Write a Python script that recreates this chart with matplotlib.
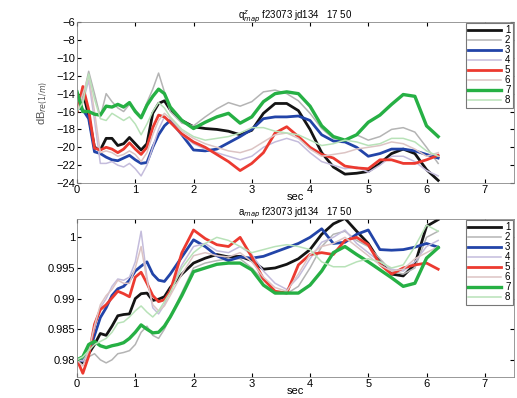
import matplotlib
matplotlib.use("Agg")
import matplotlib.pyplot as plt

plt.rcParams["font.family"] = ["Liberation Sans", "DejaVu Sans"]

# time axis (sec)
t = [0, 0.1, 0.2, 0.3, 0.4, 0.5, 0.6, 0.7, 0.8, 0.9, 1.0, 1.1, 1.2, 1.3, 1.4, 1.5, 1.6,
     1.8, 2.0, 2.2, 2.4, 2.6, 2.8, 3.0, 3.2, 3.4, 3.6, 3.8, 4.0, 4.2, 4.4, 4.6, 4.8,
     5.0, 5.2, 5.4, 5.6, 5.8, 6.0, 6.2]

labels = ["1", "2", "3", "4", "5", "6", "7", "8"]
colors = ["#141414", "#b4b4b4", "#2244a8", "#c4bcdc", "#ec3a30", "#dcc4c4", "#26b044", "#b8e2b8"]
widths = [2.0, 1.1, 2.0, 1.1, 2.0, 1.1, 2.4, 1.1]

# q^z_map (dB)
q1 = [-16.0, -13.8, -16.5, -20.0, -20.3, -19.0, -19.0, -19.8, -19.6, -18.9, -19.6, -20.3, -19.6, -16.2, -15.1, -14.8, -15.8,
      -17.0, -17.7, -17.9, -18.0, -18.2, -18.6, -18.1, -16.2, -15.1, -15.1, -15.9, -18.0, -20.6, -22.2, -23.0, -22.9,
      -22.7, -21.8, -20.7, -20.2, -20.7, -22.5, -23.7]
q2 = [-16.0, -14.5, -11.5, -14.0, -16.6, -14.0, -14.9, -15.6, -16.0, -15.2, -15.8, -16.6, -15.0, -13.5, -11.7, -13.8, -16.0,
      -17.3, -17.6, -16.6, -15.7, -15.0, -15.4, -14.9, -13.8, -13.6, -14.0, -14.8, -16.2, -17.9, -19.0, -19.2, -18.6,
      -19.2, -18.8, -18.0, -17.8, -18.3, -20.0, -21.8]
q3 = [-15.5, -15.8, -16.8, -20.5, -20.7, -21.1, -21.4, -21.5, -21.2, -20.9, -21.4, -21.8, -21.7, -20.0, -18.6, -17.6, -17.0,
      -18.6, -20.3, -20.4, -20.2, -19.5, -18.8, -18.0, -16.8, -16.6, -16.6, -16.5, -17.0, -18.6, -19.3, -19.4, -20.0,
      -21.0, -20.7, -20.2, -20.2, -20.4, -20.8, -21.2]
q4 = [-16.0, -15.0, -12.5, -17.0, -21.8, -21.8, -21.6, -22.0, -22.2, -21.8, -22.4, -23.2, -22.0, -20.0, -18.0, -16.6, -17.2,
      -18.6, -19.6, -20.2, -20.6, -21.0, -21.4, -21.0, -20.0, -19.4, -19.0, -19.4, -20.6, -21.6, -22.0, -22.4, -22.2,
      -22.8, -22.0, -21.0, -21.0, -21.6, -22.6, -23.2]
q5 = [-16.0, -13.2, -15.8, -20.1, -20.3, -20.0, -20.2, -20.6, -20.2, -19.5, -20.2, -20.8, -20.0, -17.8, -16.4, -16.6, -17.2,
      -18.5, -19.4, -20.0, -20.8, -21.6, -22.6, -21.8, -20.6, -18.4, -17.7, -18.8, -20.0, -20.8, -21.2, -22.1, -22.3,
      -22.4, -21.4, -21.4, -21.8, -21.8, -21.4, -20.9]
q6 = [-16.0, -14.0, -12.0, -16.0, -20.6, -20.4, -20.6, -21.0, -20.8, -20.4, -20.8, -21.6, -20.6, -18.6, -17.0, -16.2, -16.8,
      -18.2, -19.0, -19.6, -20.0, -20.4, -20.6, -20.2, -19.4, -18.6, -18.4, -19.0, -20.2, -21.0, -20.8, -20.6, -20.2,
      -20.0, -19.8, -19.4, -19.6, -20.2, -21.0, -20.6]
q7 = [-13.8, -16.0, -16.0, -16.3, -16.4, -15.4, -15.5, -15.2, -15.5, -15.0, -16.0, -16.7, -15.3, -14.3, -13.5, -14.0, -15.5,
      -17.0, -17.9, -17.2, -16.6, -16.2, -17.3, -16.6, -14.9, -14.0, -13.8, -14.0, -15.4, -17.6, -18.8, -19.2, -18.6,
      -17.2, -16.4, -15.2, -14.1, -14.3, -17.6, -18.8]
q8 = [-16.0, -15.0, -11.8, -14.6, -16.8, -17.0, -16.2, -16.6, -17.0, -16.6, -17.4, -18.6, -17.4, -16.0, -15.0, -15.6, -16.6,
      -18.0, -18.8, -19.2, -19.0, -18.8, -18.4, -17.8, -17.8, -18.2, -18.4, -18.6, -19.2, -19.8, -19.6, -19.2, -19.4,
      -19.8, -19.6, -19.0, -19.0, -19.4, -20.4, -21.0]

# a_map
a1 = [0.9800, 0.9795, 0.9810, 0.9825, 0.9843, 0.9840, 0.9855, 0.9872, 0.9874, 0.9875, 0.9900, 0.9908, 0.9909, 0.9897, 0.9899, 0.9903, 0.9918,
      0.9940, 0.9958, 0.9966, 0.9972, 0.9968, 0.9969, 0.9962, 0.9948, 0.9950, 0.9956, 0.9965, 0.9980, 1.0005, 1.0022, 1.0031, 1.0010,
      0.9990, 0.9960, 0.9940, 0.9937, 0.9956, 1.0018, 1.0029]
a2 = [0.9800, 0.9800, 0.9805, 0.9810, 0.9800, 0.9795, 0.9800, 0.9810, 0.9812, 0.9815, 0.9825, 0.9845, 0.9855, 0.9840, 0.9835, 0.9850, 0.9870,
      0.9910, 0.9950, 0.9958, 0.9962, 0.9965, 0.9965, 0.9950, 0.9930, 0.9912, 0.9908, 0.9920, 0.9950, 0.9985, 1.0005, 1.0010, 0.9995,
      0.9985, 0.9965, 0.9945, 0.9940, 0.9950, 1.0000, 1.0010]
a3 = [0.9800, 0.9798, 0.9812, 0.9840, 0.9869, 0.9885, 0.9905, 0.9916, 0.9920, 0.9930, 0.9945, 0.9953, 0.9960, 0.9940, 0.9930, 0.9928, 0.9940,
      0.9968, 0.9996, 0.9985, 0.9970, 0.9962, 0.9968, 0.9966, 0.9969, 0.9976, 0.9983, 0.9990, 1.0000, 1.0014, 0.9990, 0.9992, 1.0005,
      1.0012, 0.9980, 0.9979, 0.9980, 0.9984, 0.9990, 0.9984]
a4 = [0.9800, 0.9798, 0.9815, 0.9850, 0.9885, 0.9900, 0.9920, 0.9932, 0.9930, 0.9935, 0.9960, 1.0010, 0.9935, 0.9885, 0.9875, 0.9890, 0.9915,
      0.9955, 0.9985, 0.9990, 0.9978, 0.9975, 0.9985, 0.9972, 0.9945, 0.9925, 0.9915, 0.9935, 0.9965, 0.9992, 1.0000, 1.0012, 0.9990,
      0.9975, 0.9960, 0.9948, 0.9945, 0.9960, 0.9985, 0.9995]
a5 = [0.9800, 0.9778, 0.9806, 0.9858, 0.9882, 0.9890, 0.9901, 0.9912, 0.9908, 0.9903, 0.9935, 0.9943, 0.9925, 0.9905, 0.9895, 0.9898, 0.9912,
      0.9975, 1.0012, 0.9998, 0.9988, 0.9985, 1.0000, 0.9968, 0.9932, 0.9912, 0.9909, 0.9955, 0.9972, 0.9975, 0.9972, 0.9995, 1.0000,
      0.9988, 0.9956, 0.9940, 0.9950, 0.9955, 0.9958, 0.9948]
a6 = [0.9800, 0.9790, 0.9815, 0.9855, 0.9890, 0.9905, 0.9915, 0.9930, 0.9925, 0.9925, 0.9950, 0.9985, 0.9930, 0.9890, 0.9880, 0.9888, 0.9905,
      0.9940, 0.9970, 0.9975, 0.9970, 0.9968, 0.9975, 0.9960, 0.9935, 0.9918, 0.9912, 0.9940, 0.9972, 0.9985, 0.9990, 1.0000, 0.9985,
      0.9970, 0.9955, 0.9945, 0.9948, 0.9965, 0.9975, 0.9985]
a7 = [0.9800, 0.9805, 0.9825, 0.9830, 0.9823, 0.9820, 0.9823, 0.9825, 0.9828, 0.9835, 0.9845, 0.9857, 0.9850, 0.9844, 0.9845, 0.9855, 0.9870,
      0.9905, 0.9944, 0.9950, 0.9956, 0.9958, 0.9958, 0.9947, 0.9922, 0.9909, 0.9909, 0.9909, 0.9922, 0.9945, 0.9975, 0.9985, 0.9972,
      0.9960, 0.9947, 0.9934, 0.9920, 0.9925, 0.9966, 0.9983]
a8 = [0.9800, 0.9805, 0.9815, 0.9825, 0.9830, 0.9835, 0.9845, 0.9860, 0.9862, 0.9870, 0.9880, 0.9888, 0.9878, 0.9870, 0.9880, 0.9895, 0.9910,
      0.9950, 0.9975, 0.9990, 1.0000, 0.9995, 0.9985, 0.9975, 0.9980, 0.9985, 0.9988, 0.9985, 0.9980, 0.9960, 0.9952, 0.9952, 0.9960,
      0.9965, 0.9960, 0.9950, 0.9955, 0.9985, 1.0020, 1.0010]

q_series = [q1, q2, q3, q4, q5, q6, q7, q8]
a_series = [a1, a2, a3, a4, a5, a6, a7, a8]

fig = plt.figure(figsize=(5.17, 3.98), dpi=100)
ax1 = fig.add_axes([0.149, 0.540, 0.845, 0.4045])
ax2 = fig.add_axes([0.149, 0.0528, 0.845, 0.397])

for ys, c, w, lab in zip(q_series, colors, widths, labels):
    ax1.plot(t, ys, color=c, lw=w, label=lab)
for ys, c, w, lab in zip(a_series, colors, widths, labels):
    ax2.plot(t, ys, color=c, lw=w, label=lab)

ax1.set_xlim(0, 7.5)
ax1.set_ylim(-24, -6)
ax1.set_yticks(range(-24, -5, 2))
ax1.set_title("q$^{z}_{map}$ f23073 jd134   17 50", fontsize=7, pad=3)
ax1.set_ylabel("dB$_{re(1/m)}$", fontsize=8, color="#555555", labelpad=4)

ax2.set_xlim(0, 7.5)
ax2.set_ylim(0.9772, 1.003)
ax2.set_yticks([0.98, 0.985, 0.99, 0.995, 1.0])
ax2.set_yticklabels(["0.98", "0.985", "0.99", "0.995", "1"])
ax2.set_title("a$_{map}$ f23073 jd134   17 50", fontsize=7, pad=3)

for ax in (ax1, ax2):
    ax.set_xticks(range(0, 8))
    ax.tick_params(direction="in", top=True, right=True, labelsize=8, length=3, pad=1.5)
    ax.set_xlabel("sec", fontsize=8, labelpad=-2)
    for s in ax.spines.values():
        s.set_color("#888888")
        s.set_linewidth(0.6)
    leg = ax.legend(loc="upper right", fontsize=7, handlelength=3.4, handletextpad=0.4,
                    labelspacing=0.0, borderpad=0.25, borderaxespad=0.1, fancybox=False,
                    framealpha=1)
    leg.get_frame().set_edgecolor("#777777")
    leg.get_frame().set_linewidth(0.8)

fig.savefig("out.png", dpi=100)
